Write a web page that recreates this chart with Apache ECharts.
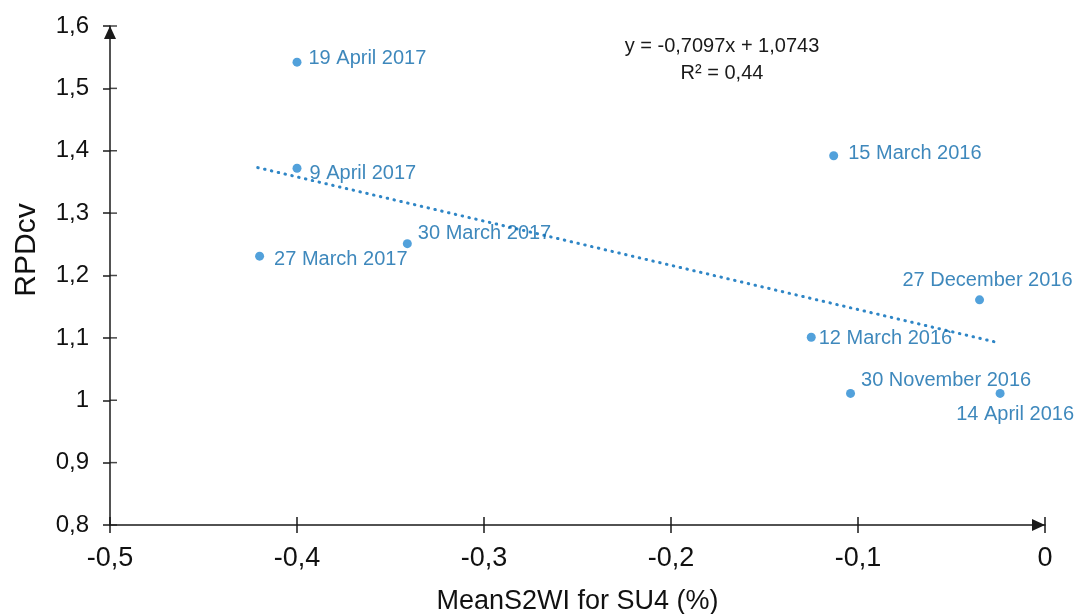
<!DOCTYPE html>
<html><head><meta charset="utf-8">
<script src="https://cdn.jsdelivr.net/npm/echarts@6/dist/echarts.min.js"></script>
<style>html,body{margin:0;padding:0;background:#fff}#c{width:1079px;height:614px}</style>
</head><body><div id="c"></div>
<script>
// ---- data ----
const dates = ['19 April 2017','9 April 2017','27 March 2017','30 March 2017','15 March 2016','27 December 2016','12 March 2016','30 November 2016','14 April 2016'];
const meanS2WI = [-0.400,-0.400,-0.420,-0.341,-0.113,-0.035,-0.125,-0.104,-0.024];
const rpdcv = [1.542,1.372,1.231,1.251,1.392,1.161,1.101,1.011,1.011];
const trendX = [-0.421,-0.026];
const trendY = [1.373,1.093];
const xTickValues = [-0.5,-0.4,-0.3,-0.2,-0.1,0];
const xTickLabels = ['-0,5','-0,4','-0,3','-0,2','-0,1','0'];
const yTickValues = [0.8,0.9,1.0,1.1,1.2,1.3,1.4,1.5,1.6];
const yTickLabels = ['0,8','0,9','1','1,1','1,2','1,3','1,4','1,5','1,6'];
const equationText = 'y = -0,7097x + 1,0743';
const r2Text = 'R² = 0,44';
const xName = 'MeanS2WI for SU4 (%)';
const yName = 'RPDcv';

// ---- styling / placement ----
const FONT = '"Liberation Sans", Arial, sans-serif';
const labelPlace = {
  '19 April 2017':    {position:'right', distance:7,  offset:[0,-4]},
  '9 April 2017':     {position:'right', distance:8,  offset:[0,5]},
  '27 March 2017':    {position:'right', distance:10, offset:[0,3]},
  '30 March 2017':    {position:'right', distance:6,  offset:[0,-10]},
  '15 March 2016':    {position:'right', distance:10, offset:[0,-2]},
  '27 December 2016': {position:'top',   distance:5,  offset:[8,0]},
  '12 March 2016':    {position:'right', distance:3,  offset:[0,1]},
  '30 November 2016': {position:'right', distance:6,  offset:[0,-13]},
  '14 April 2016':    {position:'bottom',distance:7,  offset:[15,0]}
};
const XMIN=-0.5, XMAX=0, XINT=0.1, YMIN=0.8, YMAX=1.6, YINT=0.1;
const xFmt = v => xTickLabels[xTickValues.findIndex(t => Math.abs(t - v) < 1e-9)] ?? '';
const yFmt = v => yTickLabels[yTickValues.findIndex(t => Math.abs(t - v) < 1e-9)] ?? '';
const axisColor = '#1a1a1a';

const points = dates.map((d,i) => ({
  name: d,
  value: [meanS2WI[i], rpdcv[i]],
  label: Object.assign({show:true, formatter:'{b}'}, labelPlace[d])
}));

const chart = echarts.init(document.getElementById('c'), null, {renderer:'canvas'});
chart.setOption({
  animation:false,
  backgroundColor:'#fff',
  grid:{left:110, right:34, top:26, bottom:89, containLabel:false, outerBoundsMode:'none'},
  xAxis:[
    {type:'value', min:XMIN, max:XMAX, interval:XINT, position:'bottom',
     axisLine:{show:true, onZero:false, lineStyle:{color:axisColor, width:1.5},
               symbol:['none','triangle'], symbolSize:[12,13], symbolOffset:[0,-6.5]},
     axisTick:{show:true, length:8, lineStyle:{color:axisColor, width:1.5}},
     axisLabel:{fontSize:27, color:'#111', margin:20, fontFamily:FONT, formatter:xFmt},
     splitLine:{show:false},
     name:xName, nameLocation:'middle', nameGap:63,
     nameTextStyle:{fontSize:27, color:'#111', fontFamily:FONT}},
    {type:'value', min:XMIN, max:XMAX, interval:XINT, position:'bottom',
     axisLine:{show:false}, axisLabel:{show:false}, splitLine:{show:false},
     axisTick:{show:true, inside:true, length:8, lineStyle:{color:axisColor, width:1.5}}}
  ],
  yAxis:[
    {type:'value', min:YMIN, max:YMAX, interval:YINT, position:'left',
     axisLine:{show:true, onZero:false, lineStyle:{color:axisColor, width:1.5},
               symbol:['none','triangle'], symbolSize:[12,13], symbolOffset:[0,-6.5]},
     axisTick:{show:true, length:7, lineStyle:{color:axisColor, width:1.5}},
     axisLabel:{fontSize:24, color:'#111', margin:21, fontFamily:FONT, formatter:yFmt},
     splitLine:{show:false}}
  ],
  graphic:[
    {type:'text', x:27, y:250, rotation:Math.PI/2,
     style:{text:yName, fontSize:30, fontFamily:FONT, fill:'#111', align:'center', verticalAlign:'middle'}},
    {type:'text', x:722, y:46,
     style:{text:equationText, fontSize:20, fontFamily:FONT, fill:'#1a1a1a', align:'center', verticalAlign:'middle'}},
    {type:'text', x:722, y:73,
     style:{text:r2Text, fontSize:20, fontFamily:FONT, fill:'#1a1a1a', align:'center', verticalAlign:'middle'}}
  ],
  series:[
    // inner half of the y-axis ticks (ticks cross the axis line)
    {type:'scatter', xAxisIndex:0, yAxisIndex:0, silent:true, clip:false, z:2,
     data:yTickValues.map(v => [XMIN, v]),
     symbol:'rect', symbolSize:[7,1.5], symbolOffset:[3.5,0],
     itemStyle:{color:axisColor}},
    {type:'line', xAxisIndex:0, yAxisIndex:0, data:trendX.map((x,i)=>[x,trendY[i]]),
     showSymbol:false, silent:true, z:1,
     lineStyle:{color:'#2f86c6', width:3, type:[0.5,6.5], cap:'round'}},
    {type:'scatter', xAxisIndex:0, yAxisIndex:0, data:points, symbolSize:9, z:3,
     itemStyle:{color:'#2789d2'},
     label:{color:'#0e6aab', fontSize:20, fontFamily:FONT}}
  ]
});
</script></body></html>
